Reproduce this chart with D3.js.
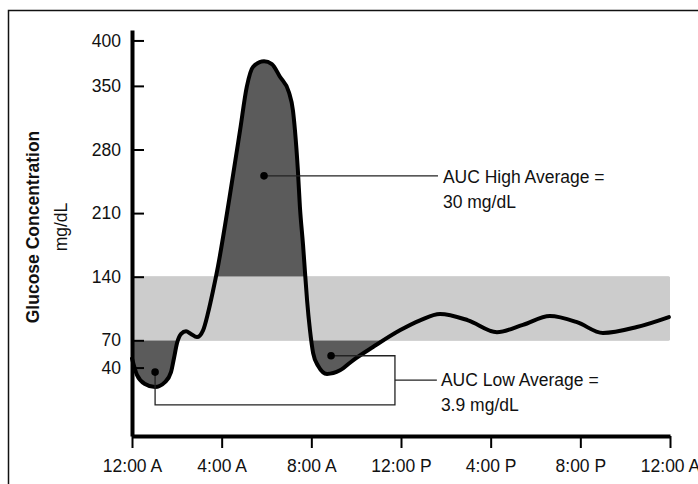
<!DOCTYPE html>
<html>
<head>
<meta charset="utf-8">
<script src="https://cdn.jsdelivr.net/npm/d3@7"></script>
<style>
body { margin: 0; background: #fff; }
text { font-family: Arial, "Liberation Sans", sans-serif; fill: #111; }
</style>
</head>
<body>
<div id="chart"></div>
<script>
// hours after midnight and glucose (mg/dL)
var hours = [0, 0.22, 0.58, 1.03, 1.47, 1.74, 1.87, 2.01, 2.19, 2.41, 2.63, 2.9, 3.17, 3.39, 3.61, 3.84,
  4.33, 4.82, 5.12, 5.4, 5.89, 6.24, 6.6, 7.0, 7.18, 7.27, 7.4, 7.49, 7.63, 7.72, 7.81, 7.94, 8.08,
  8.3, 8.7, 9.28, 9.86, 10.75, 11.95, 12.85, 13.74, 14.99, 16.28, 17.44, 18.64, 19.85, 21.01, 22.52, 23.95];
var glucose = [50, 32, 22, 18.6, 24, 35, 50, 67, 77, 80, 77, 73.6, 81, 100, 124, 152,
  224, 301, 349, 371, 377, 374, 360, 343, 323, 301, 257, 217, 175, 144, 114, 81, 56,
  42, 33, 37, 48, 62.6, 81, 92, 99, 92, 79, 87, 96.7, 90, 78, 84.6, 95.6];

var tickHours = [0, 4, 8, 12, 16, 20, 24];
var tickLabels = ["12:00 A", "4:00 A", "8:00 A", "12:00 P", "4:00 P", "8:00 P", "12:00 A"];
var yTicks = [40, 70, 140, 210, 280, 350, 400];

var targetLow = 70;
var targetHigh = 140;

// annotations: [hour, mg/dL]
var highDot = [5.89, 251];
var lowDots = [[1.03, 35], [8.88, 53]];
var highText = ["AUC High Average =", "30 mg/dL"];
var lowText = ["AUC Low Average =", "3.9 mg/dL"];

var width = 698;
var height = 484;

var svg = d3.select("#chart").append("svg")
    .attr("width", width)
    .attr("height", height);

// frame, the right and bottom sides are cut off
svg.append("rect")
    .attr("x", 8.5).attr("y", 10.5)
    .attr("width", 720).attr("height", 500)
    .attr("fill", "none")
    .attr("stroke", "#111")
    .attr("stroke-width", 1.5);

var x = d3.scaleLinear().domain([0, 24]).range([132, 670]);
var y = d3.scaleLinear().domain([-35.3, 411.5]).range([436, 30]);

var points = hours.map(function(h, i) { return { h: h, v: glucose[i] }; });

// target range band
svg.append("rect")
    .attr("x", x(0))
    .attr("y", y(targetHigh))
    .attr("width", x(24) - x(0))
    .attr("height", y(targetLow) - y(targetHigh))
    .attr("fill", "#cccccc");

var defs = svg.append("defs");
defs.append("clipPath").attr("id", "clip-high")
  .append("rect")
    .attr("x", x(0)).attr("y", 0)
    .attr("width", x(24) - x(0)).attr("height", y(targetHigh));
defs.append("clipPath").attr("id", "clip-low")
  .append("rect")
    .attr("x", x(0)).attr("y", y(targetLow))
    .attr("width", x(24) - x(0)).attr("height", height - y(targetLow));

var curve = d3.curveMonotoneX;

var areaHigh = d3.area()
    .x(function(d) { return x(d.h); })
    .y0(y(targetHigh))
    .y1(function(d) { return y(d.v); })
    .curve(curve);

var areaLow = d3.area()
    .x(function(d) { return x(d.h); })
    .y0(y(targetLow))
    .y1(function(d) { return y(d.v); })
    .curve(curve);

svg.append("path")
    .datum(points)
    .attr("clip-path", "url(#clip-high)")
    .attr("fill", "#5b5b5b")
    .attr("d", areaHigh);

svg.append("path")
    .datum(points)
    .attr("clip-path", "url(#clip-low)")
    .attr("fill", "#5b5b5b")
    .attr("d", areaLow);

var line = d3.line()
    .x(function(d) { return x(d.h); })
    .y(function(d) { return y(d.v); })
    .curve(curve);

svg.append("path")
    .datum(points)
    .attr("fill", "none")
    .attr("stroke", "#000")
    .attr("stroke-width", 4)
    .attr("stroke-linejoin", "round")
    .attr("stroke-linecap", "round")
    .attr("d", line);

// axes
var yAxis = d3.axisLeft(y)
    .tickValues(yTicks)
    .tickSizeInner(-12)
    .tickSizeOuter(0)
    .tickPadding(11)
    .tickFormat(d3.format("d"));

var gy = svg.append("g")
    .attr("transform", "translate(" + x(0) + ",0)")
    .call(yAxis);

var xAxis = d3.axisBottom(x)
    .tickValues(tickHours)
    .tickSizeInner(12)
    .tickSizeOuter(0)
    .tickPadding(12)
    .tickFormat(function(d, i) { return tickLabels[i]; });

var gx = svg.append("g")
    .attr("transform", "translate(0," + y.range()[0] + ")")
    .call(xAxis);

[gx, gy].forEach(function(g) {
  g.select(".domain").attr("stroke", "#000").attr("stroke-width", 4);
  g.selectAll(".tick line").attr("stroke", "#000").attr("stroke-width", 2);
  g.selectAll(".tick text")
    .attr("fill", "#111")
    .style("font-family", "Arial, 'Liberation Sans', sans-serif")
    .style("font-size", "17.5px");
});

// y axis title
svg.append("text")
    .attr("transform", "translate(33,227) rotate(-90)")
    .attr("dy", "0.35em")
    .attr("text-anchor", "middle")
    .style("font-size", "17.5px")
    .style("font-weight", "bold")
    .text("Glucose Concentration");

svg.append("text")
    .attr("transform", "translate(61,227) rotate(-90)")
    .attr("dy", "0.35em")
    .attr("text-anchor", "middle")
    .style("font-size", "17.5px")
    .text("mg/dL");

// callouts
var callout = svg.append("g")
    .attr("fill", "none")
    .attr("stroke", "#222")
    .attr("stroke-width", 1.3);

callout.append("path")
    .attr("d", "M" + x(highDot[0]) + "," + y(highDot[1]) + "H" + x(13.65));

callout.append("path")
    .attr("d", "M" + x(lowDots[0][0]) + "," + y(lowDots[0][1]) +
      "V" + y(-1) + "H" + x(11.73) + "V" + y(lowDots[1][1]) + "H" + x(lowDots[1][0]));

callout.append("path")
    .attr("d", "M" + x(11.73) + "," + y(26.3) + "H" + x(13.6));

svg.selectAll("circle.dot")
    .data([highDot].concat(lowDots))
    .enter().append("circle")
    .attr("class", "dot")
    .attr("cx", function(d) { return x(d[0]); })
    .attr("cy", function(d) { return y(d[1]); })
    .attr("r", 3.8)
    .attr("fill", "#000");

function addLabel(lines, h, v) {
  svg.append("text")
      .attr("x", x(h))
      .attr("y", y(v))
      .style("font-size", "17.5px")
    .selectAll("tspan")
      .data(lines)
    .enter().append("tspan")
      .attr("x", x(h))
      .attr("dy", function(d, i) { return i == 0 ? "0.35em" : "25px"; })
      .text(function(d) { return d; });
}

addLabel(highText, 13.87, 250);
addLabel(lowText, 13.78, 26.3);
</script>
</body>
</html>
